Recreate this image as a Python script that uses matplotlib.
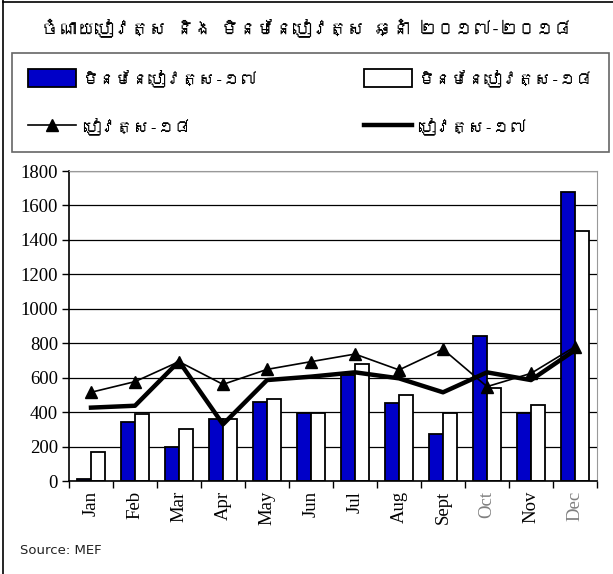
#!/usr/bin/env python3

import matplotlib

matplotlib.use("Agg")

import matplotlib.pyplot as plt
import numpy as np
from matplotlib import font_manager
from matplotlib.ft2font import FT2Font
from matplotlib.lines import Line2D
from matplotlib.patches import Patch

months = ["Jan", "Feb", "Mar", "Apr", "May", "Jun",
          "Jul", "Aug", "Sept", "Oct", "Nov", "Dec"]
non_salary_17 = [10, 344, 195, 360, 461, 393, 615, 451, 271, 844, 397, 1676]
non_salary_18 = [170, 389, 300, 360, 478, 393, 679, 501, 393, 538, 441, 1453]
salary_18 = [515, 577, 693, 561, 648, 693, 737, 645, 765, 548, 625, 780]
salary_17 = [426, 437, 695, 329, 586, 606, 631, 596, 515, 631, 586, 760]
gray_months = ["Oct", "Dec"]

title = "ចំណាយបៀវត្ស និង មិនមែនបៀវត្ស ឆ្នាំ ២០១៧-២០១៨"
label_ns17 = "មិនមែនបៀវត្ស-១៧"
label_ns18 = "មិនមែនបៀវត្ស-១៨"
label_s18 = "បៀវត្ស-១៨"
label_s17 = "បៀវត្ស-១៧"


def khmer_family():
    # look for any installed font that covers the Khmer block
    for entry in font_manager.fontManager.ttflist:
        try:
            if 0x1785 in FT2Font(entry.fname).get_charmap():
                return [entry.name, "DejaVu Sans"]
        except Exception:
            continue
    return ["DejaVu Sans"]


kh_family = khmer_family()

fig = plt.figure(figsize=(6.13, 5.74), dpi=100)
ax = fig.add_axes([69 / 613, 1 - 481 / 574, 528 / 613, 310 / 574])

x = np.arange(len(months))
width = 0.31
ax.bar(x - width / 2, non_salary_17, width, color="#0000c8",
       edgecolor="black", linewidth=1.3, zorder=2)
ax.bar(x + width / 2, non_salary_18, width, color="white",
       edgecolor="black", linewidth=1.3, zorder=2)
ax.plot(x, salary_17, color="black", linewidth=3.2, zorder=3)
ax.plot(x, salary_18, color="black", linewidth=1.2, marker="^",
        markersize=8, zorder=4)

ax.set_xlim(-0.5, 11.5)
ax.set_ylim(0, 1800)
ax.set_yticks(range(0, 1801, 200))
ax.yaxis.grid(True, color="black", linewidth=0.9, zorder=0)
ax.set_axisbelow(True)

ax.set_xticks(np.arange(-0.5, 12, 1))
ax.set_xticklabels([])
ax.set_xticks(x, minor=True)
ax.set_xticklabels(months, minor=True, rotation=90,
                   fontfamily="Liberation Serif", fontsize=13.5)
ax.tick_params(axis="x", which="minor", length=0, pad=7)
ax.tick_params(axis="x", which="major", length=5, width=1, direction="out")
ax.tick_params(axis="y", length=5, width=1, direction="out", pad=3)
for tick in ax.get_yticklabels():
    tick.set_fontfamily("Liberation Serif")
    tick.set_fontsize(13.5)
for tick in ax.xaxis.get_minorticklabels():
    if tick.get_text() in gray_months:
        tick.set_color("#808080")

ax.spines["left"].set_linewidth(1.2)
ax.spines["bottom"].set_linewidth(1.2)
ax.spines["top"].set_color("#999999")
ax.spines["right"].set_color("#999999")

fig.text(0.5, 1 - 28 / 574, title, ha="center", va="center",
         fontsize=13, fontweight="bold", color="black", family=kh_family)

handles = [
    Patch(facecolor="#0000c8", edgecolor="black", linewidth=1.3),
    Line2D([], [], color="black", linewidth=1.2, marker="^", markersize=8),
    Patch(facecolor="white", edgecolor="black", linewidth=1.3),
    Line2D([], [], color="black", linewidth=3.2),
]
labels = [label_ns17, label_s18, label_ns18, label_s17]
legend = fig.legend(
    handles, labels, ncol=2, mode="expand",
    loc="upper left",
    bbox_to_anchor=(12 / 613, 1 - 151 / 574, 597 / 613, 98 / 574),
    prop={"family": kh_family, "size": 12},
    handlelength=2.9, handleheight=1.3, handletextpad=0.4,
    borderpad=0.95, labelspacing=1.8, borderaxespad=0.0,
    fancybox=False, frameon=True, edgecolor="#404040",
)
legend.get_frame().set_linewidth(1.2)
legend.get_frame().set_boxstyle("square", pad=0)

fig.text(20 / 613, 1 - 550 / 574, "Source: MEF", ha="left", va="center",
         fontsize=9.5, fontfamily="DejaVu Sans", color="#222222")

fig.add_artist(Line2D([3 / 613, 3 / 613], [0, 1], color="black",
                      linewidth=1.2, transform=fig.transFigure))
fig.add_artist(Line2D([3 / 613, 1], [1 - 1.5 / 574, 1 - 1.5 / 574],
                      color="black", linewidth=1.2, transform=fig.transFigure))

fig.savefig("out.png", dpi=100)
plt.close(fig)
